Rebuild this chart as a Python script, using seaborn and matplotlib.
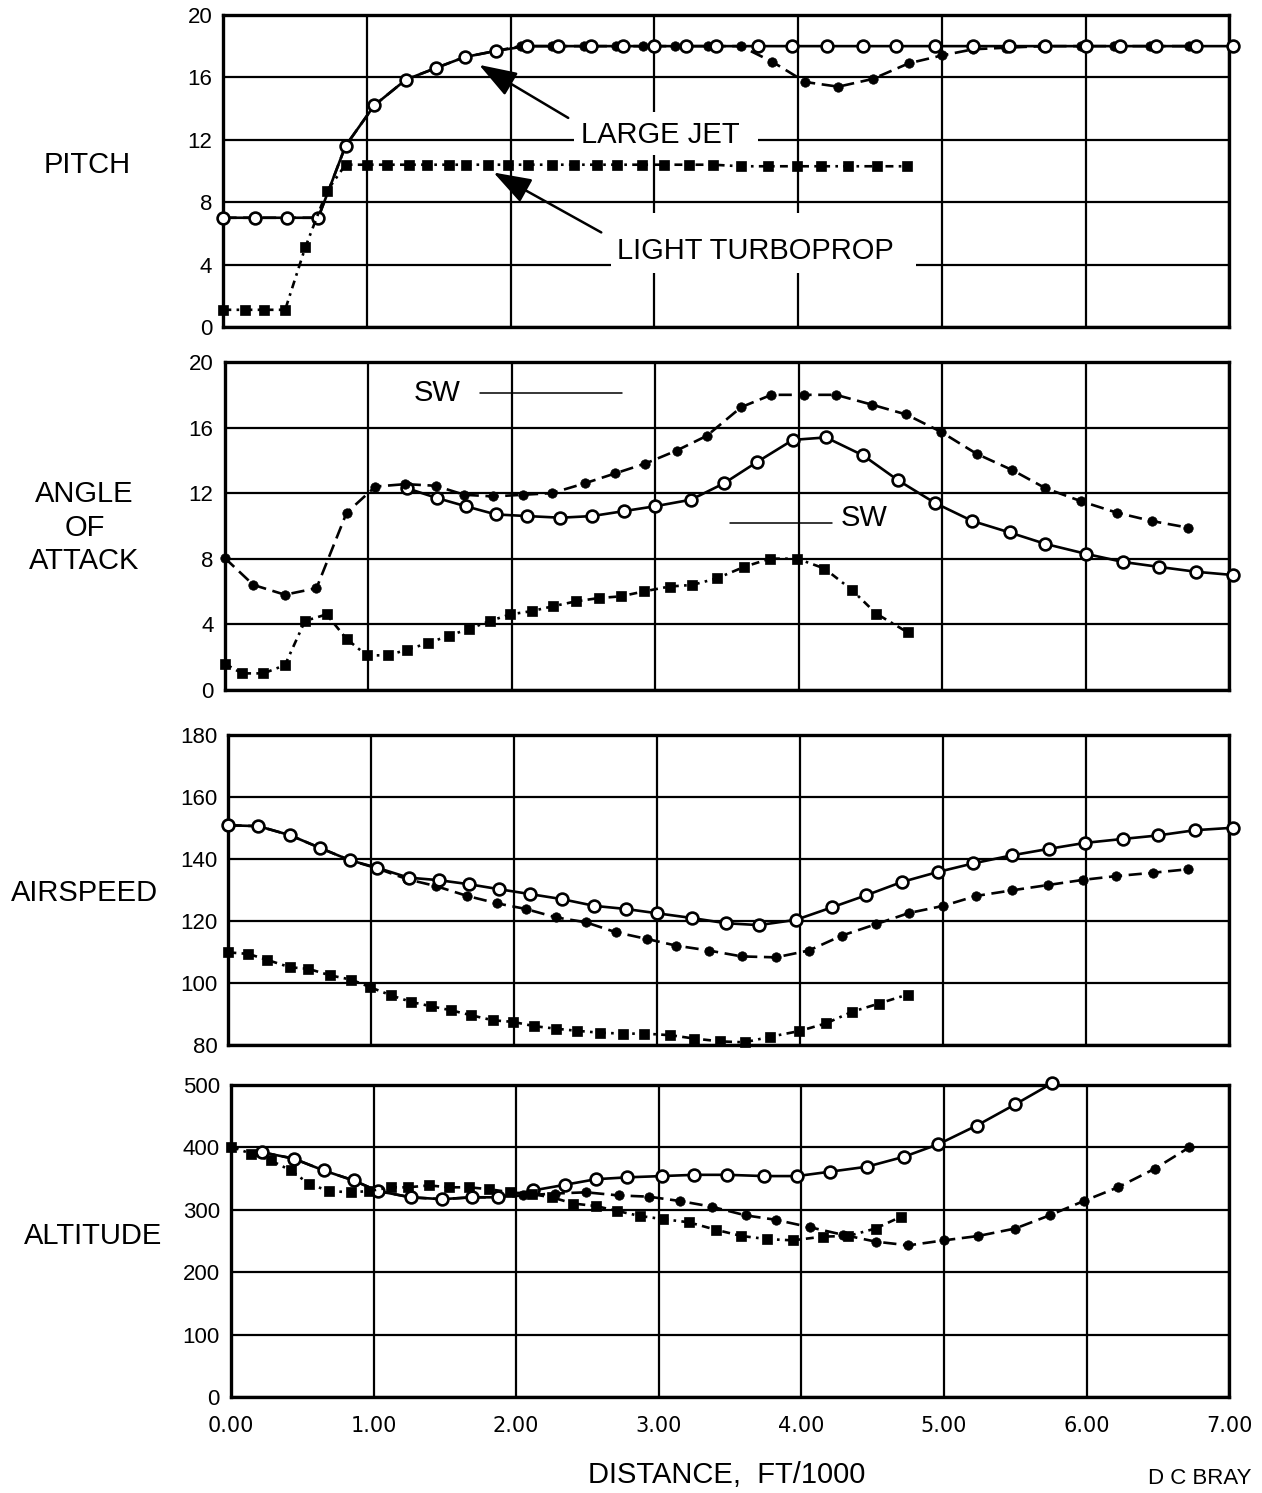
import matplotlib
matplotlib.use("Agg")
import matplotlib.pyplot as plt
import seaborn as sns
from matplotlib.patches import Rectangle

# ---- data (distance in ft/1000) ----
# PITCH
pitch_jet_open_x = [0, 0.22, 0.44, 0.66, 0.85, 1.05, 1.27, 1.48, 1.68, 1.9, 2.11, 2.33, 2.56, 2.78, 3.0, 3.22,
                    3.43, 3.72, 3.96, 4.2, 4.45, 4.68, 4.95, 5.22, 5.47, 5.72, 6.0, 6.24, 6.49, 6.77, 7.03]
pitch_jet_open_y = [7.0, 7.0, 7.0, 7.0, 11.6, 14.2, 15.85, 16.6, 17.3, 17.7, 18.0, 18.0, 18.0, 18.0, 18.0, 18.0,
                    18.0, 18.0, 18.0, 18.0, 18.0, 18.0, 18.0, 18.0, 18.0, 18.0, 18.0, 18.0, 18.0, 18.0, 18.0]
pitch_jet_fill_x = [0, 0.22, 0.44, 0.66, 0.85, 1.05, 1.27, 1.48, 1.68, 1.9, 2.07, 2.29, 2.51, 2.73, 2.92, 3.14,
                    3.37, 3.6, 3.82, 4.05, 4.28, 4.52, 4.77, 5.0, 5.22, 5.45, 5.7, 5.97, 6.2, 6.45, 6.72]
pitch_jet_fill_y = [7.0, 7.0, 7.0, 7.0, 11.6, 14.2, 15.85, 16.6, 17.3, 17.7, 18.0, 18.0, 18.0, 18.0, 18.0, 18.0,
                    18.0, 18.0, 17.0, 15.7, 15.4, 15.9, 16.9, 17.4, 17.8, 17.9, 18.0, 18.0, 18.0, 18.0, 18.0]
pitch_prop_x = [0, 0.15, 0.28, 0.43, 0.57, 0.72, 0.85, 1.0, 1.14, 1.29, 1.42, 1.57, 1.69, 1.84, 1.98, 2.12,
                2.29, 2.44, 2.6, 2.74, 2.91, 3.07, 3.24, 3.41, 3.6, 3.79, 3.99, 4.16, 4.35, 4.55, 4.76]
pitch_prop_y = [1.1, 1.1, 1.1, 1.1, 5.1, 8.7, 10.4, 10.4, 10.4, 10.4, 10.4, 10.4, 10.4, 10.4, 10.4, 10.4,
                10.4, 10.4, 10.4, 10.4, 10.4, 10.4, 10.4, 10.4, 10.3, 10.3, 10.3, 10.3, 10.3, 10.3, 10.3]

# ANGLE OF ATTACK
aoa_fill_x = [0, 0.2, 0.42, 0.64, 0.85, 1.05, 1.26, 1.47, 1.67, 1.87, 2.08, 2.28, 2.51, 2.72, 2.93, 3.15,
              3.36, 3.6, 3.81, 4.04, 4.26, 4.51, 4.75, 4.99, 5.24, 5.49, 5.72, 5.97, 6.22, 6.46, 6.71]
aoa_fill_y = [8.05, 6.4, 5.8, 6.2, 10.8, 12.4, 12.55, 12.45, 11.9, 11.8, 11.9, 12.0, 12.6, 13.2, 13.8, 14.6,
              15.5, 17.25, 18.0, 18.0, 18.0, 17.4, 16.8, 15.75, 14.4, 13.4, 12.3, 11.5, 10.8, 10.3, 9.9]
aoa_open_x = [1.27, 1.48, 1.68, 1.89, 2.11, 2.34, 2.56, 2.78, 3.0, 3.25, 3.48, 3.71, 3.96, 4.19, 4.45, 4.69,
              4.95, 5.21, 5.47, 5.72, 6.0, 6.26, 6.51, 6.77, 7.03]
aoa_open_y = [12.3, 11.7, 11.2, 10.7, 10.6, 10.5, 10.6, 10.9, 11.2, 11.6, 12.6, 13.9, 15.25, 15.4, 14.3, 12.8,
              11.4, 10.3, 9.6, 8.9, 8.3, 7.8, 7.5, 7.2, 7.0]
aoa_prop_x = [0, 0.12, 0.27, 0.42, 0.56, 0.71, 0.85, 0.99, 1.14, 1.27, 1.42, 1.56, 1.7, 1.85, 1.99, 2.14,
              2.29, 2.45, 2.61, 2.76, 2.92, 3.1, 3.26, 3.43, 3.62, 3.8, 3.99, 4.18, 4.37, 4.54, 4.76]
aoa_prop_y = [1.6, 1.0, 1.0, 1.5, 4.2, 4.6, 3.1, 2.1, 2.1, 2.45, 2.85, 3.3, 3.7, 4.2, 4.6, 4.8,
              5.1, 5.4, 5.6, 5.7, 6.0, 6.3, 6.4, 6.8, 7.5, 8.0, 8.0, 7.4, 6.1, 4.65, 3.5]

# AIRSPEED
spd_open_x = [0, 0.21, 0.43, 0.64, 0.85, 1.04, 1.26, 1.47, 1.68, 1.89, 2.11, 2.33, 2.56, 2.78, 3.0, 3.24,
              3.48, 3.71, 3.97, 4.22, 4.46, 4.71, 4.96, 5.21, 5.48, 5.74, 5.99, 6.26, 6.5, 6.76, 7.03]
spd_open_y = [150.9, 150.6, 147.7, 143.6, 139.6, 137.2, 134.0, 133.2, 131.9, 130.3, 128.7, 127.1, 124.9, 123.9,
              122.5, 121.0, 119.3, 118.7, 120.4, 124.4, 128.3, 132.6, 135.8, 138.6, 141.2, 143.3, 145.2, 146.5,
              147.6, 149.3, 150.1]
spd_fill_x = [0, 0.21, 0.43, 0.64, 0.85, 1.04, 1.25, 1.45, 1.67, 1.88, 2.08, 2.29, 2.5, 2.71, 2.93, 3.13,
              3.36, 3.59, 3.83, 4.06, 4.29, 4.53, 4.76, 5.0, 5.23, 5.48, 5.73, 5.98, 6.21, 6.47, 6.71]
spd_fill_y = [150.9, 150.6, 147.7, 143.6, 139.6, 137.0, 133.5, 131.3, 128.1, 125.7, 123.9, 121.2, 119.6, 116.4,
              114.2, 112.1, 110.5, 108.6, 108.3, 110.5, 115.3, 119.0, 122.6, 124.9, 128.1, 129.9, 131.6, 133.3,
              134.5, 135.6, 136.7]
spd_prop_x = [0, 0.14, 0.27, 0.43, 0.56, 0.71, 0.86, 0.99, 1.14, 1.28, 1.42, 1.56, 1.7, 1.85, 1.99, 2.14,
              2.29, 2.44, 2.6, 2.76, 2.91, 3.09, 3.26, 3.44, 3.61, 3.79, 3.99, 4.18, 4.36, 4.55, 4.75]
spd_prop_y = [109.9, 109.4, 107.5, 105.1, 104.6, 102.5, 101.1, 98.7, 96.0, 93.9, 92.5, 91.2, 89.6, 88.0, 87.5,
              86.1, 85.3, 84.6, 84.0, 83.7, 83.7, 83.2, 82.1, 81.2, 80.9, 82.7, 84.5, 87.0, 90.7, 93.4, 96.3]

# ALTITUDE
alt_open_x = [0.22, 0.44, 0.65, 0.86, 1.03, 1.26, 1.48, 1.69, 1.87, 2.12, 2.34, 2.56, 2.78, 3.02, 3.25,
              3.48, 3.74, 3.97, 4.2, 4.46, 4.72, 4.96, 5.23, 5.5, 5.76]
alt_open_y = [392, 382, 363, 347, 330, 320, 317, 320, 320, 331, 340, 349, 352, 354, 356,
              356, 354, 354, 361, 369, 385, 405, 435, 469, 503]
alt_fill_x = [0.22, 0.44, 0.65, 0.86, 1.03, 1.26, 1.48, 1.69, 1.87, 2.05, 2.27, 2.49, 2.72, 2.93, 3.15,
              3.37, 3.61, 3.82, 4.06, 4.29, 4.52, 4.75, 5.0, 5.24, 5.5, 5.74, 5.98, 6.22, 6.48, 6.72]
alt_fill_y = [392, 382, 363, 347, 330, 320, 317, 320, 320, 323, 326, 328, 323, 321, 314,
              305, 291, 284, 272, 260, 249, 243, 251, 258, 270, 291, 314, 336, 366, 400]
alt_prop_x = [0, 0.14, 0.28, 0.42, 0.55, 0.69, 0.84, 0.97, 1.12, 1.24, 1.39, 1.53, 1.67, 1.81, 1.96, 2.11,
              2.25, 2.4, 2.56, 2.71, 2.87, 3.03, 3.21, 3.4, 3.58, 3.76, 3.94, 4.15, 4.33, 4.52, 4.7]
alt_prop_y = [401, 390, 379, 363, 341, 330, 328, 330, 336, 336, 339, 336, 336, 333, 328, 325,
              320, 310, 306, 298, 290, 285, 280, 268, 258, 253, 251, 257, 258, 270, 289]

x_ticks = [0, 1, 2, 3, 4, 5, 6, 7]
x_ticklabels = ["0.00", "1.00", "2.00", "3.00", "4.00", "5.00", "6.00", "7.00"]

sns.set_theme(style="white")
plt.rcParams['font.family'] = ['Liberation Sans', 'DejaVu Sans']
plt.rcParams['text.color'] = 'black'
plt.rcParams['xtick.color'] = 'black'
plt.rcParams['ytick.color'] = 'black'

fig = plt.figure(figsize=(12.62, 14.93), dpi=100)

# panel rectangles [left, bottom, width, height]
ax1 = fig.add_axes([0.177, 0.781, 0.797, 0.209])
ax2 = fig.add_axes([0.178, 0.538, 0.796, 0.2195])
ax3 = fig.add_axes([0.181, 0.300, 0.793, 0.2077])
ax4 = fig.add_axes([0.183, 0.0643, 0.791, 0.209])


def draw(ax, x, y, kind, z):
    common = dict(ax=ax, color='black', estimator=None, sort=False, legend=False,
                  clip_on=False, zorder=z, linewidth=1.9)
    if kind == 'open':
        sns.lineplot(x=x, y=y, marker='o', markersize=8.5, markerfacecolor='white',
                     markeredgecolor='black', markeredgewidth=1.9, linestyle='-', **common)
    elif kind == 'fill':
        sns.lineplot(x=x, y=y, marker='o', markersize=6.8, markerfacecolor='black',
                     markeredgecolor='black', markeredgewidth=0.5, linestyle=(0, (5, 2.5)), **common)
    else:
        sns.lineplot(x=x, y=y, marker='s', markersize=6.8, markerfacecolor='black',
                     markeredgecolor='black', markeredgewidth=0.5, linestyle=(0, (3, 2, 1, 2)), **common)


def style(ax, ylim, yticks, bottom=False):
    ax.set_xlim(0, 7)
    ax.set_ylim(*ylim)
    ax.set_xticks(x_ticks)
    ax.set_yticks(yticks)
    ax.set_axisbelow(True)
    ax.grid(True, color='black', linewidth=1.6)
    for s in ax.spines.values():
        s.set_color('black')
        s.set_linewidth(2.4)
    ax.tick_params(axis='both', length=0, labelsize=16, colors='black')
    ax.tick_params(axis='y', pad=8)
    ax.set_xlabel('')
    ax.set_ylabel('')
    if bottom:
        ax.set_xticklabels(x_ticklabels)
        ax.tick_params(axis='x', pad=14, labelsize=15)
        for t in ax.get_xticklabels():
            t.set_family('DejaVu Sans')
    else:
        ax.tick_params(axis='x', labelbottom=False)


# PITCH
draw(ax1, pitch_jet_fill_x, pitch_jet_fill_y, 'fill', 3)
draw(ax1, pitch_jet_open_x, pitch_jet_open_y, 'open', 4)
draw(ax1, pitch_prop_x, pitch_prop_y, 'sq', 5)
style(ax1, (0, 20), [0, 4, 8, 12, 16, 20])
ax1.add_patch(Rectangle((2.44, 11.0), 1.28, 2.8, facecolor='white', edgecolor='none', zorder=1))
ax1.add_patch(Rectangle((2.70, 3.45), 2.12, 3.85, facecolor='white', edgecolor='none', zorder=1))
ax1.text(2.49, 12.3, 'LARGE JET', fontsize=21, va='center', ha='left', zorder=6)
ax1.text(2.74, 4.9, 'LIGHT TURBOPROP', fontsize=21, va='center', ha='left', zorder=6)
arrow = dict(arrowstyle='-|>,head_length=1.3,head_width=0.45', color='black', lw=1.8,
             mutation_scale=18, shrinkA=0, shrinkB=0)
ax1.annotate('', xy=(1.78, 16.8), xytext=(2.40, 13.4), arrowprops=arrow, zorder=7)
ax1.annotate('', xy=(1.88, 9.9), xytext=(2.63, 6.06), arrowprops=arrow, zorder=7)

# ANGLE OF ATTACK
draw(ax2, aoa_open_x, aoa_open_y, 'open', 3)
draw(ax2, aoa_fill_x, aoa_fill_y, 'fill', 4)
draw(ax2, aoa_prop_x, aoa_prop_y, 'sq', 5)
style(ax2, (0, 20), [0, 4, 8, 12, 16, 20])
ax2.text(1.32, 18.1, 'SW', fontsize=21, va='center', ha='left')
ax2.plot([1.78, 2.77], [18.1, 18.1], color='black', lw=1.1)
ax2.text(4.29, 10.5, 'SW', fontsize=21, va='center', ha='left')
ax2.plot([3.52, 4.23], [10.2, 10.2], color='black', lw=1.1)

# AIRSPEED
draw(ax3, spd_fill_x, spd_fill_y, 'fill', 3)
draw(ax3, spd_open_x, spd_open_y, 'open', 4)
draw(ax3, spd_prop_x, spd_prop_y, 'sq', 5)
style(ax3, (80, 180), [80, 100, 120, 140, 160, 180])

# ALTITUDE
draw(ax4, alt_fill_x, alt_fill_y, 'fill', 3)
draw(ax4, alt_open_x, alt_open_y, 'open', 4)
draw(ax4, alt_prop_x, alt_prop_y, 'sq', 5)
style(ax4, (0, 500), [0, 100, 200, 300, 400, 500], bottom=True)

# row labels
fig.text(0.069, 0.8895, 'PITCH', fontsize=21, ha='center', va='center')
fig.text(0.067, 0.6464, 'ANGLE\nOF\nATTACK', fontsize=21, ha='center', va='center', linespacing=1.25)
fig.text(0.067, 0.4019, 'AIRSPEED', fontsize=21, ha='center', va='center')
fig.text(0.074, 0.172, 'ALTITUDE', fontsize=21, ha='center', va='center')

fig.text(0.576, 0.012, 'DISTANCE,  FT/1000', fontsize=21, ha='center', va='center')
fig.text(0.992, 0.003, 'D C BRAY', fontsize=16, ha='right', va='bottom')

fig.savefig('out.png', dpi=100)
